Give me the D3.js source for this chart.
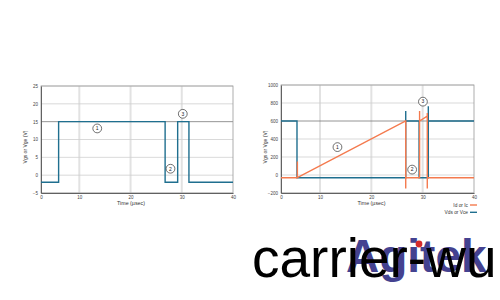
<!DOCTYPE html>
<html lang="en">
<head>
    <meta charset="UTF-8">
    <title>Gate drive waveforms</title>
    <style>
        body {
            margin: 0;
            width: 500px;
            height: 300px;
            background: #fff;
            overflow: hidden;
        }
        text {
            font-family: "Liberation Sans", Arial, sans-serif;
        }
    </style>
</head>

<body>
    <div id="chart-wrapper"></div>

    <script src="https://d3js.org/d3.v7.min.js"></script>
    <script>
        // left panel: gate voltage
        const vgsTime = [0, 4.6, 4.6, 26.75, 26.75, 29.2, 29.2, 31.4, 31.4, 40]
        const vgsValue = [-2, -2, 15, 15, -2, -2, 15, 15, -2, -2]

        // right panel: drain current and drain voltage
        const idTime = [0, 4.2, 4.2, 4.2, 26.7, 26.7, 26.7, 29.4, 29.4, 29.4, 30.9, 30.9, 30.9, 30.9, 40]
        const idValue = [-30, -30, 150, -30, 600, -150, -30, -30, 710, 600, 655, 690, -150, -30, -30]
        const vdsTime = [0, 4.1, 4.1, 26.7, 26.7, 26.7, 29.3, 29.3, 31.1, 31.1, 31.1, 40]
        const vdsValue = [600, 600, -30, -30, 710, 600, 600, -30, -30, 765, 600, 600]

        const xTicks = [0, 10, 20, 30, 40]
        const leftYTicks = [-5, 0, 5, 10, 15, 20, 25]
        const rightYTicks = [-200, 0, 200, 400, 600, 800, 1000]

        // circled markers: [time, value, label]
        const leftMarks = [[13.5, 13.1, '1'], [27.8, 1.8, '2'], [30.2, 17.2, '3']]
        const rightMarks = [[13.4, 310, '1'], [27.95, 60, '2'], [30.05, 815, '3']]

        const legendNames = ['Id or Ic', 'Vds or Vce']

        const blue = '#1f6f8f'
        const orange = '#f47a4e'

        const svg = d3.select('#chart-wrapper')
            .append('svg')
            .attr('width', 500)
            .attr('height', 300)

        function drawPanel(opt) {
            const g = svg.append('g')
            // axis spacing in the source is uneven between 0 and 10
            const x = d3.scaleLinear()
                .domain([0, 10, 40])
                .range([opt.left, opt.left + opt.firstGap, opt.right])
            const y = d3.scaleLinear()
                .domain(opt.yDomain)
                .range([opt.bottom, opt.top])

            // vertical grid
            g.append('g')
                .selectAll('line')
                .data(xTicks.slice(1, -1))
                .join('line')
                .attr('x1', d => x(d)).attr('x2', d => x(d))
                .attr('y1', opt.top).attr('y2', opt.bottom)
                .attr('stroke', '#e2e2e2')
                .attr('stroke-width', 2)

            // horizontal grid
            g.append('g')
                .selectAll('line')
                .data(opt.yTicks)
                .join('line')
                .attr('x1', opt.left).attr('x2', opt.right)
                .attr('y1', d => y(d)).attr('y2', d => y(d))
                .attr('stroke', d => d === opt.refLine ? '#7a7a7a' : '#cfcfcf')
                .attr('stroke-width', 0.8)

            // frame
            g.append('rect')
                .attr('x', opt.left).attr('y', opt.top)
                .attr('width', opt.right - opt.left)
                .attr('height', opt.bottom - opt.top)
                .attr('fill', 'none')
                .attr('stroke', '#9a9a9a')
                .attr('stroke-width', 0.8)

            const xAxis = d3.axisBottom(x).tickValues(xTicks).tickSize(0).tickPadding(3)
            const yAxis = d3.axisLeft(y).tickValues(opt.yTicks).tickSize(0).tickPadding(3)
                .tickFormat(d3.format('d'))

            g.append('g')
                .attr('transform', `translate(0, ${opt.bottom})`)
                .call(xAxis)
                .call(a => a.select('.domain').attr('stroke', '#555').attr('stroke-width', 0.9))
                .call(a => a.selectAll('text').attr('font-size', 4.5).attr('fill', '#444')
                    .attr('font-family', '"Liberation Sans", Arial, sans-serif'))
            g.append('g')
                .attr('transform', `translate(${opt.left}, 0)`)
                .call(yAxis)
                .call(a => a.select('.domain').attr('stroke', '#555').attr('stroke-width', 0.9))
                .call(a => a.selectAll('text').attr('font-size', 4.5).attr('fill', '#444')
                    .attr('font-family', '"Liberation Sans", Arial, sans-serif'))

            g.append('text')
                .attr('x', opt.left + (opt.right - opt.left) / 2 - 6)
                .attr('y', opt.bottom + 12)
                .attr('text-anchor', 'middle')
                .attr('font-size', 5.3)
                .attr('fill', '#333')
                .text('Time (\u00b5sec)')

            g.append('text')
                .attr('transform', `translate(${opt.left - 14}, 147) rotate(-90)`)
                .attr('text-anchor', 'middle')
                .attr('font-size', 5)
                .attr('fill', '#333')
                .text('Vgs or Vge (V)')

            const line = d3.line()
                .x(d => x(d[0]))
                .y(d => y(d[1]))

            opt.series.forEach(s => {
                g.append('path')
                    .datum(d3.zip(s.t, s.v))
                    .attr('fill', 'none')
                    .attr('stroke', s.color)
                    .attr('stroke-width', 1.4)
                    .attr('d', line)
            })

            const marks = g.append('g')
                .selectAll('g')
                .data(opt.marks)
                .join('g')
                .attr('transform', d => `translate(${x(d[0])}, ${y(d[1])})`)
            marks.append('circle')
                .attr('r', 4.4)
                .attr('fill', '#fff')
                .attr('stroke', '#333')
                .attr('stroke-width', 0.7)
            marks.append('text')
                .attr('text-anchor', 'middle')
                .attr('dy', '0.36em')
                .attr('font-size', 5)
                .attr('fill', '#222')
                .text(d => d[2])
        }

        drawPanel({
            left: 41, right: 233, top: 86, bottom: 193, firstGap: 38.3,
            yDomain: [-5, 25], yTicks: leftYTicks, refLine: 15,
            series: [{ t: vgsTime, v: vgsValue, color: blue }],
            marks: leftMarks
        })

        drawPanel({
            left: 281, right: 474, top: 85, bottom: 193, firstGap: 39,
            yDomain: [-200, 1000], yTicks: rightYTicks, refLine: 600,
            series: [
                { t: vdsTime, v: vdsValue, color: blue },
                { t: idTime, v: idValue, color: orange }
            ],
            marks: rightMarks
        })

        // legend
        const legend = svg.append('g')
            .selectAll('g')
            .data(legendNames)
            .join('g')
            .attr('transform', (d, i) => `translate(468, ${205 + i * 7.3})`)
        legend.append('text')
            .attr('text-anchor', 'end')
            .attr('dy', '0.35em')
            .attr('font-size', 4.8)
            .attr('fill', '#333')
            .text(d => d)
        legend.append('line')
            .attr('x1', 2).attr('x2', 9)
            .attr('stroke', (d, i) => i === 0 ? orange : blue)
            .attr('stroke-width', 1.4)

        // logo + watermark
        svg.append('text')
            .attr('x', 346)
            .attr('y', 272)
            .attr('font-family', '"Liberation Serif", "Times New Roman", serif')
            .attr('font-weight', 'bold')
            .attr('font-size', 46)
            .attr('fill', '#302e84')
            .attr('opacity', 0.9)
            .text('Agitek')
        svg.append('circle')
            .attr('cx', 419)
            .attr('cy', 244)
            .attr('r', 3.4)
            .attr('fill', '#d62a2a')
        svg.append('text')
            .attr('x', 252)
            .attr('y', 277)
            .attr('font-size', 55)
            .attr('fill', '#000')
            .text('carrier-wu')
    </script>
</body>
</html>
